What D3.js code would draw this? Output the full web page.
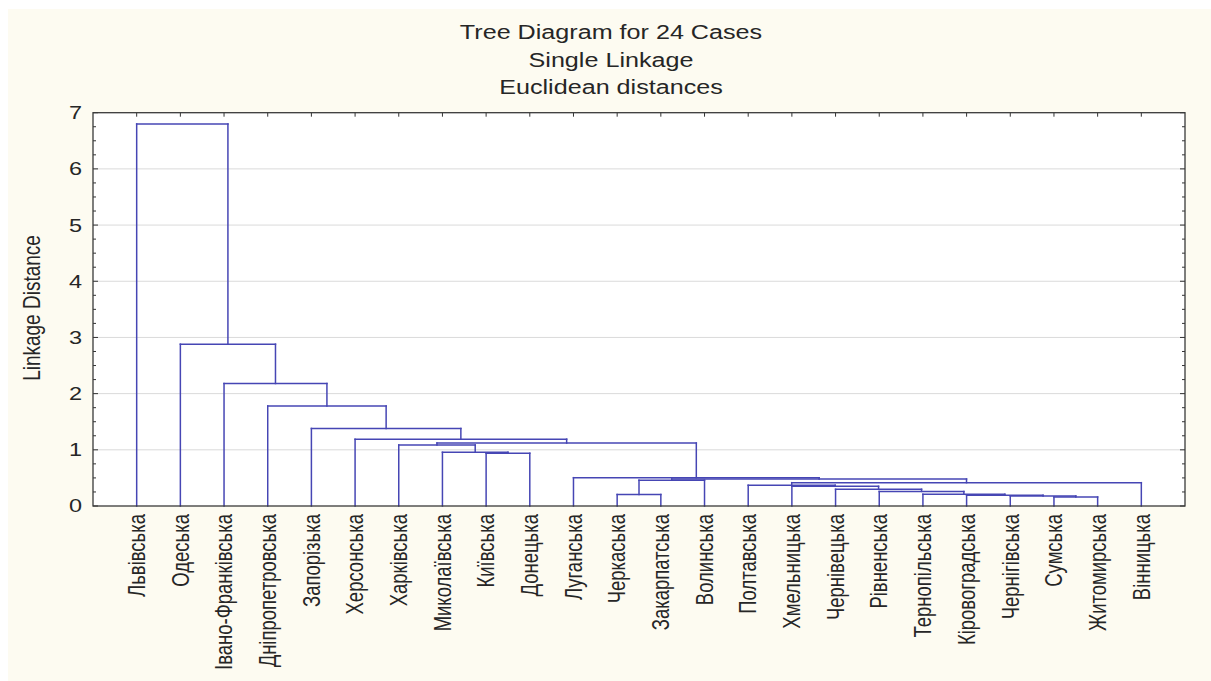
<!DOCTYPE html>
<html>
<head>
<meta charset="utf-8">
<script src="https://cdn.jsdelivr.net/npm/d3@7"></script>
<style>
  html, body { margin: 0; padding: 0; background: #ffffff; }
  svg { display: block; }
  text { font-family: "Liberation Sans", Arial, sans-serif; fill: #262626; }
</style>
</head>
<body>
<svg id="chart" width="1211" height="681"></svg>
<script>
// ---- Data ----
const titleLines = ["Tree Diagram for 24 Cases", "Single Linkage", "Euclidean distances"];
const yAxisTitle = "Linkage Distance";
const yTicks = [0, 1, 2, 3, 4, 5, 6, 7];

// leaves (cases) in dendrogram order
const cases = ["Львівська", "Одеська", "Івано-Франківська", "Дніпропетровська", "Запорізька",
  "Херсонська", "Харківська", "Миколаївська", "Київська", "Донецька", "Луганська",
  "Черкаська", "Закарпатська", "Волинська", "Полтавська", "Хмельницька", "Чернівецька",
  "Рівненська", "Тернопільська", "Кіровоградська", "Чернігівська", "Сумська",
  "Житомирська", "Вінницька"];

// linkage: merge k creates node 24+k from (mergeLeft[k], mergeRight[k]) at mergeDist[k]
const mergeLeft  = [21, 20, 19, 18, 11, 17, 16, 15, 14, 32, 28, 34, 10, 8,  7,  6,  39, 5,  4,  3,  2,  1,  0];
const mergeRight = [22, 24, 25, 26, 12, 27, 29, 30, 31, 23, 13, 33, 35, 9,  37, 38, 36, 40, 41, 42, 43, 44, 45];
const mergeDist  = [0.16, 0.178, 0.19, 0.208, 0.205, 0.26, 0.297, 0.35, 0.37, 0.415, 0.46, 0.48, 0.504,
                    0.938, 0.956, 1.085, 1.12, 1.19, 1.38, 1.78, 2.18, 2.88, 6.80];

// ---- Layout ----
const W = 1211, H = 681;
const plot = { left: 93, right: 1185, top: 112.7, bottom: 506 };
const svg = d3.select("#chart");
const SX = 1.27; // horizontal stretch of the reference's text

svg.append("rect").attr("x", 8).attr("y", 9).attr("width", W - 8).attr("height", H - 9).attr("fill", "#fdfbf1");
svg.append("rect").attr("x", plot.left).attr("y", plot.top)
  .attr("width", plot.right - plot.left).attr("height", plot.bottom - plot.top).attr("fill", "#ffffff");

const x = d3.scalePoint().domain(cases).range([plot.left, plot.right]).padding(1);
const y = d3.scaleLinear().domain([0, 7]).range([plot.bottom, plot.top]);

// gridlines
svg.append("g").selectAll("line").data(yTicks.filter(d => d > 0 && d < 7)).join("line")
  .attr("x1", plot.left).attr("x2", plot.right)
  .attr("y1", d => y(d)).attr("y2", d => y(d))
  .attr("stroke", "#dadada").attr("stroke-width", 1);

// title
svg.append("g").selectAll("text").data(titleLines).join("text")
  .attr("transform", (d, i) => `translate(${611},${39 + i * 27.5}) scale(${SX},1)`)
  .attr("text-anchor", "middle").attr("font-size", 19.8).text(d => d);

// y axis (left) with labels; minor ticks
const minor = d3.range(0, 7.001, 0.25);
const axisL = d3.axisLeft(y).tickValues(yTicks).tickSize(0).tickPadding(11).tickFormat(d3.format("d"));
const gL = svg.append("g").attr("transform", `translate(${plot.left},0)`).call(axisL);
gL.select(".domain").remove();
gL.selectAll(".tick text").each(function () {
  d3.select(this).attr("font-size", 18.5).attr("fill", "#262626")
    .attr("font-family", "Liberation Sans, Arial, sans-serif")
    .attr("transform", `scale(${SX},1)`).attr("x", (-11) / SX);
});

const tickG = svg.append("g").attr("stroke", "#333").attr("stroke-width", 1);
// left & right inward ticks
tickG.selectAll("line.ml").data(minor).join("line").attr("class", "ml")
  .attr("x1", plot.left).attr("x2", d => plot.left + (Number.isInteger(d) ? 5 : 3))
  .attr("y1", d => y(d)).attr("y2", d => y(d));
tickG.selectAll("line.mr").data(minor).join("line").attr("class", "mr")
  .attr("x1", plot.right).attr("x2", d => plot.right - (Number.isInteger(d) ? 5 : 3))
  .attr("y1", d => y(d)).attr("y2", d => y(d));
// top ticks at leaves
tickG.selectAll("line.tt").data(cases).join("line").attr("class", "tt")
  .attr("x1", d => x(d)).attr("x2", d => x(d))
  .attr("y1", plot.top).attr("y2", plot.top + 4);

// y axis title
svg.append("text")
  .attr("transform", `translate(40,${308}) scale(${SX},1) rotate(-90)`)
  .attr("text-anchor", "middle").attr("font-size", 19).text(yAxisTitle);

// ---- dendrogram ----
const nodes = cases.map(c => ({ x: x(c), h: 0 }));
mergeLeft.forEach((l, k) => {
  const a = nodes[l], b = nodes[mergeRight[k]];
  nodes.push({ x: (a.x + b.x) / 2, h: mergeDist[k], a, b });
});
const segs = [];
nodes.slice(cases.length).forEach(n => {
  segs.push([n.a.x, y(n.h), n.b.x, y(n.h)]);
  segs.push([n.a.x, y(n.a.h), n.a.x, y(n.h)]);
  segs.push([n.b.x, y(n.b.h), n.b.x, y(n.h)]);
});
svg.append("g").attr("stroke", "#4646b4").attr("stroke-width", 1.5).attr("fill", "none")
  .attr("stroke-linecap", "square")
  .selectAll("line").data(segs).join("line")
  .attr("x1", d => d[0]).attr("y1", d => d[1]).attr("x2", d => d[2]).attr("y2", d => d[3]);

// plot border
svg.append("rect").attr("x", plot.left).attr("y", plot.top)
  .attr("width", plot.right - plot.left).attr("height", plot.bottom - plot.top)
  .attr("fill", "none").attr("stroke", "#3a3a3a").attr("stroke-width", 1.3);

// x labels (rotated)
svg.append("g").selectAll("text").data(cases).join("text")
  .attr("transform", d => `translate(${x(d)},${plot.bottom + 8}) scale(${SX},1) rotate(-90)`)
  .attr("text-anchor", "end").attr("dy", "0.35em").attr("font-size", 18.5).text(d => d);
</script>
</body>
</html>
